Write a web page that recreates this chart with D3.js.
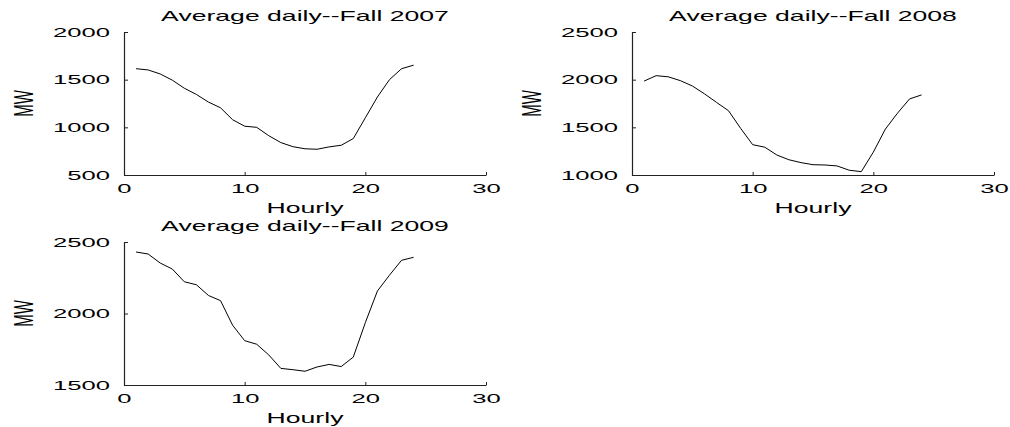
<!DOCTYPE html>
<html>
<head>
<meta charset="utf-8">
<script src="https://cdn.jsdelivr.net/npm/d3@7"></script>
<style>
  body { margin: 0; background: #fff; }
  text { font-family: "Liberation Sans", Arial, sans-serif; fill: #000; }
</style>
</head>
<body>
<div id="chart"></div>
<script>
// data (MW per hour)
const hours = [1, 2, 3, 4, 5, 6, 7, 8, 9, 10, 11, 12, 13, 14, 15, 16, 17, 18, 19, 20, 21, 22, 23, 24];
const fall2007 = [1615, 1602, 1560, 1495, 1410, 1345, 1265, 1205, 1080, 1012, 1000, 912,
                  840, 797, 775, 770, 795, 812, 882, 1100, 1318, 1500, 1615, 1652];
const fall2008 = [1985, 2042, 2030, 1990, 1934, 1852, 1762, 1674, 1490, 1318, 1292, 1210,
                  1160, 1130, 1108, 1105, 1095, 1050, 1035, 1240, 1482, 1648, 1798, 1840];
const fall2009 = [2430, 2416, 2353, 2311, 2222, 2201, 2126, 2090, 1918, 1810, 1785, 1710,
                  1616, 1607, 1596, 1626, 1644, 1629, 1695, 1936, 2157, 2268, 2372, 2393];
const xTicks = [0, 10, 20, 30];
const yTicks2007 = [500, 1000, 1500, 2000];
const yTicks2008 = [1000, 1500, 2000, 2500];
const yTicks2009 = [1500, 2000, 2500];
const titles = ['Average daily--Fall 2007', 'Average daily--Fall 2008', 'Average daily--Fall 2009'];

const width = 1010;
const height = 427;
const SX = 1.9; // the figure was stretched sideways

const svg = d3.select('#chart')
  .append('svg')
  .attr('width', width)
  .attr('height', height);

const panels = [
  { title: titles[0], values: fall2007, yTicks: yTicks2007, left: 124, right: 486, top: 32, bottom: 175 },
  { title: titles[1], values: fall2008, yTicks: yTicks2008, left: 632, right: 994, top: 32, bottom: 175 },
  { title: titles[2], values: fall2009, yTicks: yTicks2009, left: 124, right: 486, top: 242, bottom: 385 }
];

panels.forEach(p => {
  const x = d3.scaleLinear().domain([0, 30]).range([p.left, p.right]);
  const y = d3.scaleLinear().domain(d3.extent(p.yTicks)).range([p.bottom, p.top]);
  const g = svg.append('g');

  // x axis, ticks pointing in
  const xa = g.append('g')
    .attr('transform', `translate(0,${p.bottom})`)
    .call(d3.axisBottom(x).tickValues(xTicks).tickSize(-3).tickSizeOuter(0));
  xa.selectAll('text')
    .attr('y', 0).attr('dy', null)
    .attr('transform', `translate(0,18) scale(${SX},1)`)
    .style('font-size', '13.5px');

  // y axis
  const ya = g.append('g')
    .attr('transform', `translate(${p.left},0)`)
    .call(d3.axisLeft(y).tickValues(p.yTicks).tickSize(-4).tickSizeOuter(0).tickFormat(d3.format('d')));
  ya.selectAll('text')
    .attr('x', 0)
    .attr('transform', `translate(-14,0) scale(${SX},1)`)
    .style('font-size', '13.5px');

  [xa, ya].forEach(a => {
    a.select('.domain').attr('stroke', '#222').attr('stroke-width', 1.2);
    a.selectAll('line').attr('stroke', '#222');
  });

  // the series
  g.append('path')
    .datum(p.values)
    .attr('fill', 'none')
    .attr('stroke', '#000')
    .attr('stroke-width', 1)
    .attr('d', d3.line().x((d, i) => x(hours[i])).y(d => y(d)));

  // labels
  const cx = (p.left + p.right) / 2;
  g.append('text')
    .attr('text-anchor', 'middle')
    .attr('transform', `translate(${cx},${p.top - 11}) scale(${SX},1)`)
    .style('font-size', '14px')
    .text(p.title);

  g.append('text')
    .attr('text-anchor', 'middle')
    .attr('transform', `translate(${cx},${p.bottom + 38}) scale(${SX},1)`)
    .style('font-size', '14px')
    .text('Hourly');

  g.append('text')
    .attr('text-anchor', 'middle')
    .attr('transform', `translate(${p.left - 91},${(p.top + p.bottom) / 2}) scale(${SX},1) rotate(-90)`)
    .style('font-size', '15px')
    .text('MW');
});
</script>
</body>
</html>
